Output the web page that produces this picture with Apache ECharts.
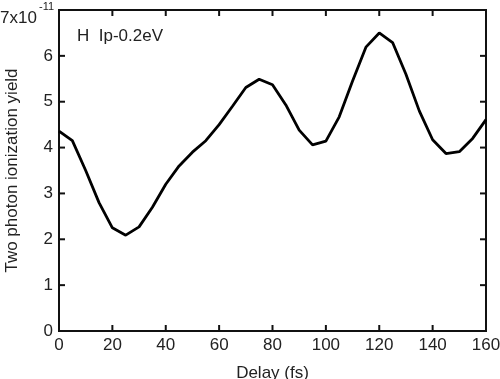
<!DOCTYPE html>
<html><head><meta charset="utf-8">
<script src="https://cdn.jsdelivr.net/npm/echarts@6/dist/echarts.min.js"></script>
<style>html,body{margin:0;padding:0;background:#fff}#c{width:500px;height:379px}</style>
</head><body><div id="c"></div>
<script>
const delays = [0,5,10,15,20,25,30,35,40,45,50,55,60,65,70,75,80,85,90,95,100,105,110,115,120,125,130,135,140,145,150,155,160];
const yieldVals = [4.36,4.15,3.5,2.8,2.25,2.09,2.27,2.7,3.2,3.6,3.9,4.15,4.5,4.9,5.31,5.49,5.37,4.93,4.38,4.06,4.14,4.67,5.45,6.19,6.5,6.29,5.6,4.8,4.17,3.87,3.91,4.2,4.61];
const xTicks = [0,20,40,60,80,100,120,140,160];
const yTicks = [0,1,2,3,4,5,6];
const xRange = [0,160];
const yRange = [0,7];
const seriesLabel = 'H  Ip-0.2eV';

const font = '"Liberation Sans", Arial, Helvetica, sans-serif';
const frameColor = '#111';
const chart = echarts.init(document.getElementById('c'));

function frameItem(params, api) {
  const tl = api.coord([xRange[0], yRange[1]]);
  const br = api.coord([xRange[1], yRange[0]]);
  const st = {stroke:frameColor, lineWidth:2, fill:null};
  const kids = [{type:'rect', shape:{x:tl[0], y:tl[1], width:br[0]-tl[0], height:br[1]-tl[1]}, style:st}];
  const L = 6;
  xTicks.forEach(v => {
    const p = api.coord([v, yRange[0]]);
    kids.push({type:'line', shape:{x1:p[0], y1:br[1], x2:p[0], y2:br[1]-L}, style:st});
    kids.push({type:'line', shape:{x1:p[0], y1:tl[1], x2:p[0], y2:tl[1]+L}, style:st});
  });
  yTicks.forEach(v => {
    const p = api.coord([xRange[0], v]);
    kids.push({type:'line', shape:{x1:tl[0], y1:p[1], x2:tl[0]+L, y2:p[1]}, style:st});
    kids.push({type:'line', shape:{x1:br[0], y1:p[1], x2:br[0]-L, y2:p[1]}, style:st});
  });
  return {type:'group', children:kids};
}

chart.setOption({
  animation:false,
  grid:{left:59, right:14, top:10, bottom:48, outerBoundsMode:'none'},
  xAxis:{
    type:'value', min:xRange[0], max:xRange[1], interval:20,
    axisLine:{show:false}, axisTick:{show:false}, splitLine:{show:false},
    axisLabel:{color:'#222', fontSize:17, fontFamily:font, margin:6,
      formatter:v=>xTicks.includes(v)?String(v):''},
    name:'Delay (fs)', nameLocation:'middle', nameGap:34,
    nameTextStyle:{color:'#222', fontSize:17, fontFamily:font}
  },
  yAxis:{
    type:'value', min:yRange[0], max:yRange[1], interval:1,
    axisLine:{show:false}, axisTick:{show:false}, splitLine:{show:false},
    axisLabel:{color:'#222', fontSize:17, fontFamily:font, margin:6,
      formatter:v=>yTicks.includes(v)?String(v):''},
    name:'Two photon ionization yield', nameLocation:'middle', nameGap:38,
    nameTextStyle:{color:'#222', fontSize:17, fontFamily:font}
  },
  series:[{
    type:'line', data:delays.map((d,i)=>[d,yieldVals[i]]),
    showSymbol:false, symbol:'none', z:3,
    lineStyle:{color:'#000', width:2.8}
  },{
    type:'custom', renderItem:frameItem, data:[[0,0]], clip:false, silent:true, z:2
  }],
  graphic:[
    {type:'text', left:77, top:28, style:{text:seriesLabel, font:'17px '+font, fill:'#222'}},
    {type:'text', left:0, top:10, style:{text:'7x10', font:'17px '+font, fill:'#222'}},
    {type:'text', left:39, top:1, style:{text:'-11', font:'11px '+font, fill:'#222'}}
  ]
});
</script></body></html>
